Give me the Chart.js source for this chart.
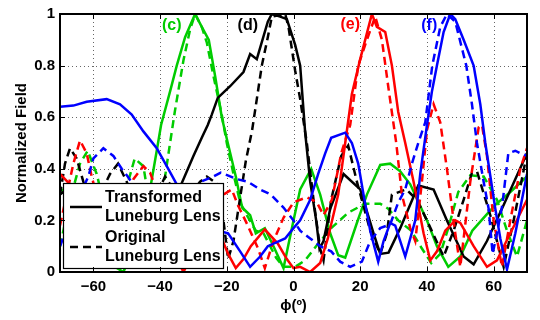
<!DOCTYPE html>
<html>
<head>
<meta charset="utf-8">
<script src="https://cdn.jsdelivr.net/npm/chart.js@4.4.0/dist/chart.umd.min.js"></script>
<style>
  html, body { margin: 0; padding: 0; background: #fff; }
  #wrap { width: 540px; height: 320px; }
</style>
</head>
<body>
<div id="wrap"><canvas id="chart" width="540" height="320"></canvas></div>
<script>
// tick labels
const xTicks = [-60, -40, -20, 0, 20, 40, 60];
const yTicks = [0, 0.2, 0.4, 0.6, 0.8, 1];

// (c) green
const greenSolidPhi = [-70, -66, -61, -56, -51, -47, -44, -42.8, -41, -39.7, -37, -35, -32.5, -29.5, -27.5, -25.4, -23.5, -21.5, -19.7, -17.3, -15.4, -13, -11.3, -8.6, -6, -3, 0, 2, 5.3, 8, 11, 13.4, 15.5, 19, 22, 26, 29, 32, 35, 40, 43, 46.4, 50, 53.6, 57, 60.5, 65, 70];
const greenSolid = [0.33, 0.25, 0.12, 0.04, 0.0, 0.12, 0.25, 0.335, 0.47, 0.57, 0.7, 0.8, 0.91, 1.0, 0.95, 0.9, 0.76, 0.6, 0.5, 0.37, 0.25, 0.22, 0.15, 0.17, 0.1, 0.015, 0.2, 0.32, 0.4, 0.3, 0.15, 0.065, 0.056, 0.19, 0.3, 0.415, 0.42, 0.39, 0.34, 0.2, 0.1, 0.02, 0.06, 0.16, 0.21, 0.26, 0.31, 0.37];
const greenDashedPhi = [-70, -67, -64, -61.7, -59, -56, -53, -50, -47.6, -45, -43, -41.5, -40, -38.5, -37, -35.6, -33, -31, -29.5, -27.5, -26, -24, -21.5, -20, -18, -16, -14, -11.3, -9, -7, -5.2, -3, 0.5, 3.5, 7.4, 11.3, 16.4, 21.5, 26, 28.4, 31.4, 35.3, 38.3, 41.3, 44, 46.4, 49.4, 53, 57, 61, 64, 67, 70];
const greenDashed = [0.1, 0.28, 0.42, 0.47, 0.38, 0.22, 0.2, 0.33, 0.44, 0.41, 0.25, 0.1, 0.2, 0.37, 0.5, 0.62, 0.82, 0.94, 1.0, 0.95, 0.89, 0.76, 0.61, 0.5, 0.38, 0.27, 0.22, 0.16, 0.15, 0.1, 0.055, 0.02, 0.02, 0.045, 0.11, 0.17, 0.23, 0.265, 0.265, 0.245, 0.2, 0.16, 0.095, 0.035, 0.07, 0.17, 0.31, 0.375, 0.37, 0.28, 0.16, 0.06, 0.2];

// (d) black
const blackSolidPhi = [-70, -67, -64, -60, -55, -50, -45, -40, -36, -33.8, -30, -27.5, -25.7, -24.5, -22.7, -19, -15, -13, -11, -7.7, -6.5, -4, -2, 0.5, 2, 3.5, 5, 6.8, 7.8, 9, 11, 15, 20, 24, 26, 28.5, 32, 37.4, 42, 46, 51, 54, 58, 63, 70];
const blackSolid = [0.3, 0.33, 0.28, 0.18, 0.08, 0.05, 0.1, 0.2, 0.28, 0.335, 0.45, 0.52, 0.57, 0.61, 0.675, 0.72, 0.775, 0.845, 0.825, 0.97, 1.0, 0.99, 0.98, 0.88, 0.8, 0.54, 0.35, 0.2, 0.09, 0.12, 0.245, 0.38, 0.32, 0.15, 0.07, 0.075, 0.17, 0.335, 0.32, 0.2, 0.06, 0.03, 0.12, 0.26, 0.46];
const blackDashedPhi = [-70, -68.5, -67, -65, -63, -60.5, -58, -55, -52.6, -50, -47, -44, -41, -38.5, -35, -31, -28, -26, -22.7, -21, -19.6, -18, -16.7, -14.3, -12.4, -11, -9.5, -7.7, -6.5, -2.5, -1.5, 0.5, 2, 4, 6, 8, 9, 11.3, 14.3, 16.4, 19, 23, 26, 28, 29.5, 33.8, 37, 40, 45, 48, 51, 53.5, 55, 59, 63, 66, 70];
const blackDashed = [0.3, 0.42, 0.48, 0.44, 0.35, 0.28, 0.3, 0.38, 0.42, 0.35, 0.25, 0.22, 0.3, 0.37, 0.3, 0.3, 0.35, 0.37, 0.34, 0.2, 0.05, 0.12, 0.23, 0.43, 0.55, 0.67, 0.8, 0.91, 0.99, 1.0, 0.95, 0.78, 0.67, 0.5, 0.28, 0.09, 0.045, 0.28, 0.45, 0.49, 0.35, 0.16, 0.07, 0.15, 0.3, 0.32, 0.28, 0.2, 0.06, 0.16, 0.28, 0.385, 0.39, 0.22, 0.02, 0.2, 0.46];

// (e) red
const redSolidPhi = [-70, -67, -64, -60, -56, -52, -48, -44, -40, -36, -33, -29, -25, -21.5, -19.6, -17.3, -15, -12.8, -8.6, -4.7, -2, 0, 2, 5, 8, 10.3, 13.4, 15.5, 17.5, 20, 23.5, 25, 27.5, 29.5, 31.4, 33.5, 36, 39, 41, 43, 45.5, 48.5, 50, 54, 58, 61, 65, 70];
const redSolid = [0.38, 0.34, 0.3, 0.2, 0.1, 0.05, 0.12, 0.22, 0.2, 0.08, 0.0, 0.1, 0.2, 0.13, 0.07, 0.015, 0.05, 0.1, 0.165, 0.11, 0.05, 0.015, 0.02, 0.0, 0.035, 0.13, 0.3, 0.5, 0.69, 0.825, 1.0, 0.95, 0.93, 0.8, 0.62, 0.5, 0.35, 0.15, 0.045, 0.08, 0.16, 0.2, 0.19, 0.1, 0.02, 0.045, 0.15, 0.28];
const redDashedPhi = [-70, -68, -66, -64, -62, -60.5, -58, -55, -51, -48, -45, -43, -40, -36, -32, -28, -24, -21, -18.5, -16.7, -13.7, -10.6, -8.6, -6, -3, 0, 4, 7, 9, 11.5, 13.4, 14.3, 17, 19.4, 22, 24.5, 26.5, 28.5, 30.8, 32.5, 35, 36.5, 38.5, 40, 42, 44, 46, 48.5, 50, 53, 55.5, 56.5, 58, 60, 62.5, 65, 68, 70];
const redDashed = [0.18, 0.3, 0.42, 0.51, 0.46, 0.37, 0.25, 0.2, 0.28, 0.36, 0.41, 0.385, 0.28, 0.15, 0.08, 0.15, 0.25, 0.3, 0.32, 0.26, 0.18, 0.09, 0.015, 0.12, 0.21, 0.27, 0.29, 0.27, 0.22, 0.28, 0.4, 0.46, 0.57, 0.8, 0.9, 0.99, 0.9, 0.71, 0.5, 0.3, 0.17, 0.12, 0.35, 0.55, 0.65, 0.58, 0.4, 0.15, 0.02, 0.35, 0.56, 0.57, 0.45, 0.2, 0.02, 0.2, 0.4, 0.48];

// (f) blue
const blueSolidPhi = [-70, -66, -62, -56, -52, -48.5, -45, -41, -38, -35, -30, -26, -22.6, -19.6, -16, -13, -10, -7.7, -2.5, 0, 2, 5, 7.4, 9.5, 11.3, 15.5, 17.5, 19.4, 21, 23, 25.4, 27, 29, 30.5, 33.5, 36.5, 38, 39.8, 41.5, 43, 45, 47, 48.5, 51, 54, 56, 57.5, 60.5, 62, 64, 66.5, 70];
const blueSolid = [0.64, 0.645, 0.66, 0.67, 0.65, 0.61, 0.545, 0.48, 0.41, 0.34, 0.25, 0.2, 0.16, 0.15, 0.08, 0.02, 0.06, 0.1, 0.13, 0.17, 0.2, 0.28, 0.38, 0.46, 0.52, 0.54, 0.5, 0.42, 0.3, 0.16, 0.04, 0.12, 0.19, 0.18, 0.06, 0.2, 0.38, 0.55, 0.7, 0.8, 0.93, 1.0, 0.98, 0.9, 0.8, 0.65, 0.5, 0.245, 0.13, 0.01, 0.15, 0.38];
const blueDashedPhi = [-70, -67, -64, -61.5, -60, -57, -54, -51.5, -49.7, -46, -42, -38, -34, -30, -27.8, -24, -21.8, -17, -13.7, -10, -6.8, -3, 0, 2, 5, 8, 11.3, 14, 17, 20.5, 23, 26, 29, 31.4, 33.5, 35.5, 37.4, 39.5, 41.6, 44, 46, 48.5, 51.8, 53.5, 55, 57, 58.5, 59.7, 61, 62.6, 64.4, 66.5, 68, 70];
const blueDashed = [0.1, 0.2, 0.3, 0.37, 0.44, 0.48, 0.45, 0.4, 0.37, 0.3, 0.22, 0.2, 0.25, 0.31, 0.35, 0.37, 0.385, 0.36, 0.35, 0.32, 0.3, 0.25, 0.2, 0.16, 0.13, 0.1, 0.08, 0.04, 0.02, 0.04, 0.12, 0.17, 0.185, 0.27, 0.32, 0.42, 0.5, 0.58, 0.8, 0.95, 1.0, 0.97, 0.8, 0.65, 0.5, 0.35, 0.245, 0.07, 0.15, 0.26, 0.46, 0.47, 0.46, 0.45];

const FONT = "'Liberation Sans', Arial, Helvetica, sans-serif";
const GREEN = '#00cc00';
const DASH = [8, 5];

const toPoints = (phi, vals) => phi.map((p, i) => ({ x: p, y: vals[i] }));

const series = (phi, vals, color, dashed) => ({
    data: toPoints(phi, vals),
    borderColor: color,
    borderWidth: 2.5,
    borderDash: dashed ? DASH : [],
    pointRadius: 0,
    tension: 0,
    fill: false,
});

// beam labels, placed in data coordinates
const beamLabels = [
    { text: '(c)', x: -36.5, y: 0.955, color: GREEN },
    { text: '(d)', x: -13.7, y: 0.955, color: '#000' },
    { text: '(e)', x: 17, y: 0.96, color: '#ff0000' },
    { text: '(f)', x: 40.7, y: 0.955, color: '#0000ff' },
];

// dotted grid under the curves
const gridPlugin = {
    id: 'dottedGrid',
    beforeDatasetsDraw(chart) {
        const { ctx, chartArea: a, scales } = chart;
        ctx.save();
        ctx.strokeStyle = 'rgba(0,0,0,0.6)';
        ctx.lineWidth = 1;
        ctx.setLineDash([1, 3]);
        ctx.beginPath();
        xTicks.forEach(t => {
            const px = Math.round(scales.x.getPixelForValue(t)) + 0.5;
            ctx.moveTo(px, a.top); ctx.lineTo(px, a.bottom);
        });
        yTicks.forEach(t => {
            const py = Math.round(scales.y.getPixelForValue(t)) + 0.5;
            ctx.moveTo(a.left, py); ctx.lineTo(a.right, py);
        });
        ctx.stroke();
        ctx.restore();
    }
};

const framePlugin = {
    id: 'frame',
    afterDatasetsDraw(chart) {
        const { ctx, chartArea: a, scales } = chart;
        ctx.save();

        // beam labels
        ctx.font = 'bold 16px ' + FONT;
        ctx.textAlign = 'center';
        ctx.textBaseline = 'middle';
        beamLabels.forEach(l => {
            ctx.fillStyle = l.color;
            ctx.fillText(l.text, scales.x.getPixelForValue(l.x), scales.y.getPixelForValue(l.y));
        });

        // legend box
        const lx = a.left + 3, ly = a.bottom - 89, lw = 160, lh = 85;
        ctx.fillStyle = '#fff';
        ctx.fillRect(lx, ly, lw, lh);
        ctx.strokeStyle = '#000';
        ctx.lineWidth = 1.2;
        ctx.strokeRect(lx + 0.5, ly + 0.5, lw, lh);

        ctx.lineWidth = 2.5;
        ctx.beginPath();
        ctx.setLineDash([]);
        ctx.moveTo(lx + 7, ly + 24);
        ctx.lineTo(lx + 39, ly + 24);
        ctx.stroke();
        ctx.beginPath();
        ctx.setLineDash(DASH);
        ctx.moveTo(lx + 7, ly + 64);
        ctx.lineTo(lx + 39, ly + 64);
        ctx.stroke();
        ctx.setLineDash([]);

        ctx.fillStyle = '#000';
        ctx.textAlign = 'left';
        ctx.fillText('Transformed', lx + 42, ly + 15);
        ctx.fillText('Luneburg Lens', lx + 42, ly + 34);
        ctx.fillText('Original', lx + 42, ly + 55);
        ctx.fillText('Luneburg Lens', lx + 42, ly + 74);

        // inward ticks
        ctx.lineWidth = 1;
        ctx.beginPath();
        xTicks.forEach(t => {
            const px = Math.round(scales.x.getPixelForValue(t)) + 0.5;
            ctx.moveTo(px, a.bottom); ctx.lineTo(px, a.bottom - 5);
            ctx.moveTo(px, a.top); ctx.lineTo(px, a.top + 5);
        });
        yTicks.forEach(t => {
            const py = Math.round(scales.y.getPixelForValue(t)) + 0.5;
            ctx.moveTo(a.left, py); ctx.lineTo(a.left + 5, py);
            ctx.moveTo(a.right, py); ctx.lineTo(a.right - 5, py);
        });
        ctx.stroke();

        // box
        ctx.lineWidth = 2;
        ctx.strokeRect(a.left, a.top, a.right - a.left, a.bottom - a.top);
        ctx.restore();
    }
};

Chart.defaults.font.family = FONT;
Chart.defaults.font.weight = 'bold';
Chart.defaults.color = '#000';

new Chart(document.getElementById('chart'), {
    type: 'line',
    data: {
        datasets: [
            series(blueSolidPhi, blueSolid, '#0000ff', false),
            series(blueDashedPhi, blueDashed, '#0000ff', true),
            series(redSolidPhi, redSolid, '#ff0000', false),
            series(redDashedPhi, redDashed, '#ff0000', true),
            series(blackSolidPhi, blackSolid, '#000000', false),
            series(blackDashedPhi, blackDashed, '#000000', true),
            series(greenSolidPhi, greenSolid, GREEN, false),
            series(greenDashedPhi, greenDashed, GREEN, true),
        ]
    },
    options: {
        responsive: false,
        animation: false,
        layout: { padding: { top: 7, right: 13, left: 0, bottom: 0 } },
        plugins: { legend: { display: false }, tooltip: { enabled: false } },
        scales: {
            x: {
                type: 'linear',
                min: -70,
                max: 70,
                afterBuildTicks: s => { s.ticks = xTicks.map(v => ({ value: v })); },
                afterFit: s => { s.height = 48; },
                ticks: {
                    font: { size: 15, weight: 'bold' },
                    padding: 6,
                    maxRotation: 0,
                    callback: v => String(v).replace('-', '\u2212'),
                },
                grid: { display: false, drawTicks: false },
                border: { display: false },
                title: {
                    display: true,
                    text: '\u03d5(\u00ba)',
                    font: { size: 15, weight: 'bold' },
                    padding: { top: 0, bottom: 5 },
                },
            },
            y: {
                min: 0,
                max: 1,
                afterBuildTicks: s => { s.ticks = yTicks.map(v => ({ value: v })); },
                afterFit: s => { s.width = 60; },
                ticks: {
                    font: { size: 15, weight: 'bold' },
                    padding: 5,
                    callback: v => String(v),
                },
                grid: { display: false, drawTicks: false },
                border: { display: false },
                title: {
                    display: true,
                    text: 'Normalized Field',
                    font: { size: 15, weight: 'bold' },
                    padding: { top: 13, bottom: 4 },
                },
            }
        }
    },
    plugins: [gridPlugin, framePlugin]
});
</script>
</body>
</html>
